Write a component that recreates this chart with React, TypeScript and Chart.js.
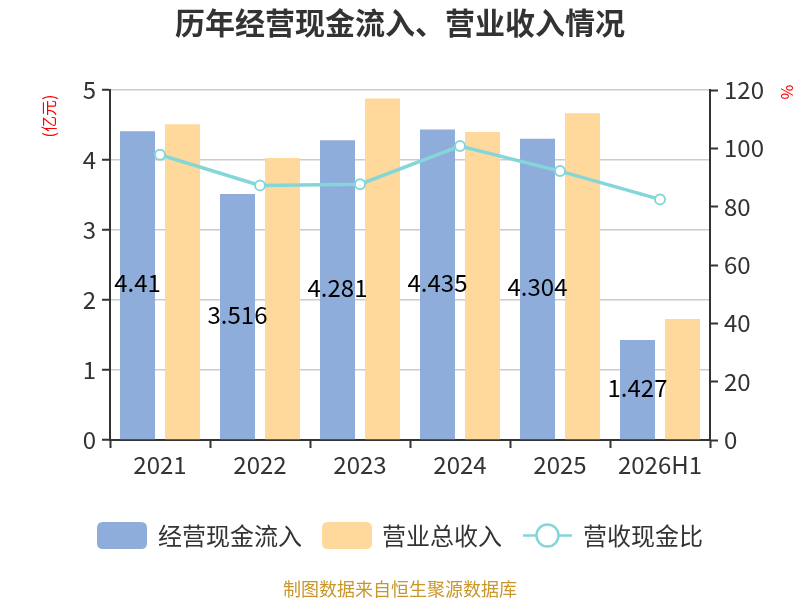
import React, { useEffect, useRef } from "react";
import { Chart, registerables } from "chart.js";

Chart.register(...registerables);

const categories = ["2021", "2022", "2023", "2024", "2025", "2026H1"];
const cashInflow = [4.41, 3.516, 4.281, 4.435, 4.304, 1.427];
const revenue = [4.51, 4.03, 4.88, 4.4, 4.667, 1.729];
const ratio = [97.8, 87.3, 87.7, 100.8, 92.2, 82.5];
const leftTicks = [0, 1, 2, 3, 4, 5];
const rightTicks = [0, 20, 40, 60, 80, 100, 120];

const seriesNames = ["经营现金流入", "营业总收入", "营收现金比"];
const titleText = "历年经营现金流入、营业收入情况";
const footerText = "制图数据来自恒生聚源数据库";
const leftUnit = "(亿元)";
const rightUnit = "%";

const FONT = '"Noto Sans CJK SC", "Noto Sans", sans-serif';
const BLUE = "#8eaddb";
const ORANGE = "#fed99b";
const TEAL = "#85d6d8";
const AXIS = "#333333";

const decorPlugin = {
  id: "decor",
  afterDatasetsDraw(chart: any) {
    const ctx = chart.ctx;
    const meta = chart.getDatasetMeta(1);
    ctx.save();
    ctx.font = `24px ${FONT}`;
    ctx.fillStyle = "#000";
    ctx.textAlign = "center";
    ctx.textBaseline = "middle";
    meta.data.forEach((el: any, i: number) => {
      const y = (el.y + el.base) / 2 - 2;
      ctx.fillText(String(cashInflow[i]), el.x, y);
    });
    ctx.restore();
  },
  afterDraw(chart: any) {
    const ctx = chart.ctx;
    ctx.save();
    // title
    ctx.font = `bold 30px ${FONT}`;
    ctx.fillStyle = "#333";
    ctx.textAlign = "center";
    ctx.textBaseline = "middle";
    ctx.fillText(titleText, 400, 23);

    // unit labels
    ctx.font = `16px ${FONT}`;
    ctx.fillStyle = "#ff0000";
    ctx.save();
    ctx.translate(49, 116);
    ctx.rotate(-Math.PI / 2);
    ctx.fillText(leftUnit, 0, 0);
    ctx.restore();
    ctx.save();
    ctx.translate(787, 92);
    ctx.rotate(Math.PI / 2);
    ctx.fillText(rightUnit, 0, 0);
    ctx.restore();

    // legend
    const ly = 535.5;
    const roundRect = (x: number, y: number, w: number, h: number, r: number) => {
      ctx.beginPath();
      ctx.moveTo(x + r, y);
      ctx.lineTo(x + w - r, y);
      ctx.quadraticCurveTo(x + w, y, x + w, y + r);
      ctx.lineTo(x + w, y + h - r);
      ctx.quadraticCurveTo(x + w, y + h, x + w - r, y + h);
      ctx.lineTo(x + r, y + h);
      ctx.quadraticCurveTo(x, y + h, x, y + h - r);
      ctx.lineTo(x, y + r);
      ctx.quadraticCurveTo(x, y, x + r, y);
      ctx.closePath();
    };
    ctx.fillStyle = BLUE;
    roundRect(97, ly - 13.5, 50, 27, 6);
    ctx.fill();
    ctx.fillStyle = ORANGE;
    roundRect(322, ly - 13.5, 50, 27, 6);
    ctx.fill();
    ctx.strokeStyle = TEAL;
    ctx.lineWidth = 2.5;
    ctx.beginPath();
    ctx.moveTo(523, ly);
    ctx.lineTo(572, ly);
    ctx.stroke();
    ctx.beginPath();
    ctx.arc(547.5, ly, 11, 0, Math.PI * 2);
    ctx.fillStyle = "#fff";
    ctx.fill();
    ctx.stroke();

    ctx.font = `24px ${FONT}`;
    ctx.fillStyle = "#333";
    ctx.textAlign = "left";
    ctx.fillText(seriesNames[0], 158, ly);
    ctx.fillText(seriesNames[1], 382, ly);
    ctx.fillText(seriesNames[2], 583, ly);

    // footer
    ctx.font = `18px ${FONT}`;
    ctx.fillStyle = "#c9962a";
    ctx.textAlign = "center";
    ctx.fillText(footerText, 400, 589);
    ctx.restore();
  },
};

export default function App() {
  const ref = useRef<HTMLCanvasElement | null>(null);
  useEffect(() => {
    if (!ref.current) return;
    const chart = new Chart(ref.current, {
      type: "bar",
      data: {
        labels: categories,
        datasets: [
          {
            type: "line",
            label: seriesNames[2],
            data: ratio,
            yAxisID: "y1",
            borderColor: TEAL,
            borderWidth: 3.5,
            pointRadius: 5,
            pointBackgroundColor: "#fff",
            pointBorderColor: TEAL,
            pointBorderWidth: 2,
            order: 0,
          } as any,
          {
            label: seriesNames[0],
            data: cashInflow,
            backgroundColor: BLUE,
            yAxisID: "y",
            order: 1,
            categoryPercentage: 0.9,
            barPercentage: 0.778,
          },
          {
            label: seriesNames[1],
            data: revenue,
            backgroundColor: ORANGE,
            yAxisID: "y",
            order: 1,
            categoryPercentage: 0.9,
            barPercentage: 0.778,
          },
        ],
      },
      options: {
        responsive: false,
        animation: false,
        devicePixelRatio: 1,
        layout: { padding: { top: 90, bottom: 120, left: 0, right: 0 } },
        plugins: {
          legend: { display: false },
          title: { display: false },
          tooltip: { enabled: false },
        },
        scales: {
          x: {
            offset: true,
            grid: {
              offset: true,
              drawOnChartArea: false,
              drawTicks: true,
              tickLength: 8,
              tickColor: AXIS,
              tickWidth: 2,
            },
            border: { color: AXIS, width: 2 },
            ticks: { color: AXIS, font: { size: 24, family: FONT }, padding: 2 },
            afterFit: (s: any) => {
              s.height = 40;
            },
          },
          y: {
            position: "left",
            min: 0,
            max: 5,
            afterBuildTicks: (s: any) => {
              s.ticks = leftTicks.map((v) => ({ value: v }));
            },
            grid: {
              color: "#cccccc",
              lineWidth: 1.5,
              tickColor: AXIS,
              tickLength: 8,
              tickWidth: 2,
            },
            border: { color: AXIS, width: 2 },
            ticks: { color: AXIS, font: { size: 24, family: FONT }, padding: 6 },
            afterFit: (s: any) => {
              s.width = 110;
            },
          },
          y1: {
            position: "right",
            min: 0,
            max: 120,
            afterBuildTicks: (s: any) => {
              s.ticks = rightTicks.map((v) => ({ value: v }));
            },
            grid: {
              drawOnChartArea: false,
              tickColor: AXIS,
              tickLength: 8,
              tickWidth: 2,
            },
            border: { color: AXIS, width: 2 },
            ticks: { color: AXIS, font: { size: 24, family: FONT }, padding: 6 },
            afterFit: (s: any) => {
              s.width = 90;
            },
          },
        },
      },
      plugins: [decorPlugin],
    });
    return () => chart.destroy();
  }, []);
  return (
    <div style={{ position: "absolute", left: 0, top: 0, width: 800, height: 600, background: "#fff" }}>
      <canvas ref={ref} width={800} height={600} style={{ display: "block" }} />
    </div>
  );
}
